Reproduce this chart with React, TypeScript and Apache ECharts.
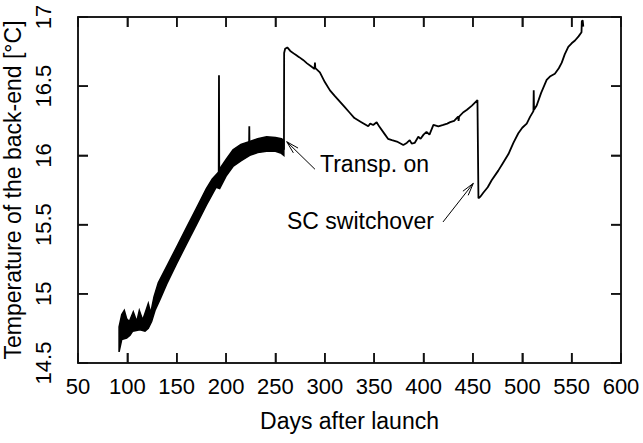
import React, { useEffect, useRef } from "react";
import * as echarts from "echarts";

const FONT = "'Liberation Sans', Arial, Helvetica, sans-serif";

// Tick values
const xTicks = [50, 100, 150, 200, 250, 300, 350, 400, 450, 500, 550, 600];
const yTicks = [14.5, 15, 15.5, 16, 16.5, 17];

// Noisy band (days 92–258): upper and lower envelope
const topDays = [91.6, 94.3, 96.9, 99.3, 102.0, 106.0, 109.5, 112.1, 115.5, 117.9, 121.2, 123.6, 127.0, 131.3, 140, 150, 160, 170, 180, 186, 192.5, 193.2, 200, 207, 215, 224, 232, 241, 250, 256, 258.5];
const topTemps = [14.76, 14.85, 14.88, 14.82, 14.80, 14.87, 14.80, 14.88, 14.81, 14.86, 14.93, 14.86, 14.98, 15.08, 15.20, 15.34, 15.48, 15.62, 15.76, 15.83, 15.88, 15.90, 15.97, 16.04, 16.08, 16.10, 16.12, 16.135, 16.13, 16.12, 16.11];
const bottomDays = [91.6, 94.3, 99.3, 102.7, 105.4, 112.8, 117.9, 121.2, 124.6, 128.0, 133.1, 139.8, 150, 160, 170, 180, 190, 193.5, 200, 207, 215, 224, 232, 241, 250, 256, 258.5];
const bottomTemps = [14.58, 14.67, 14.68, 14.70, 14.73, 14.74, 14.73, 14.75, 14.80, 14.88, 14.96, 15.07, 15.22, 15.36, 15.50, 15.64, 15.77, 15.76, 15.85, 15.92, 15.96, 16.0, 16.02, 16.03, 16.03, 16.015, 16.0];

// Short spikes inside the band
const spike1Days = [192.5, 192.8, 193.1];
const spike1Temps = [15.8, 16.58, 15.8];
const spike2Days = [223.3, 223.5, 223.7];
const spike2Temps = [16.08, 16.21, 16.08];

// Main curve after "Transp. on"
const mainDays = [258.6, 258.8, 259.8, 262, 265, 269.8, 274, 278, 282, 286.7, 289.6, 290, 290.4, 295, 300, 305.2, 310, 315, 320, 325, 330, 337, 344, 346, 349, 352.5, 355, 361, 364, 368, 373, 379.5, 383, 386, 388, 391, 394.7, 397, 400, 403, 406, 410, 415, 420, 424, 427, 431, 435, 435.5, 436, 440, 444, 449, 454.6, 455.6, 457.3, 460.5, 465, 469, 475.7, 480, 486, 491, 496, 500, 504.5, 508, 511.3, 511.6, 511.9, 514.6, 519, 524.7, 528, 533, 537, 540, 543, 546.6, 550, 553.4, 557, 560, 560.3, 561.2, 561.8];
const mainTemps = [16.04, 16.74, 16.77, 16.78, 16.755, 16.73, 16.71, 16.69, 16.665, 16.64, 16.625, 16.67, 16.63, 16.6, 16.53, 16.47, 16.43, 16.39, 16.35, 16.31, 16.27, 16.24, 16.21, 16.23, 16.22, 16.24, 16.21, 16.15, 16.12, 16.11, 16.10, 16.075, 16.09, 16.11, 16.085, 16.09, 16.135, 16.12, 16.15, 16.17, 16.15, 16.22, 16.21, 16.22, 16.23, 16.24, 16.25, 16.28, 16.25, 16.28, 16.31, 16.33, 16.36, 16.40, 15.69, 15.70, 15.73, 15.77, 15.82, 15.89, 15.94, 16.01, 16.09, 16.16, 16.2, 16.23, 16.28, 16.32, 16.47, 16.33, 16.36, 16.45, 16.545, 16.57, 16.59, 16.63, 16.67, 16.73, 16.785, 16.81, 16.83, 16.86, 16.89, 16.97, 16.975, 16.93];

// Annotations
const annotLabels = ["Transp. on", "SC switchover"];
const annotTextDays = [295.1, 261.7];
const annotTextTemps = [15.938, 15.526];
const arrowTailDays = [290.0, 419.7];
const arrowTailTemps = [15.9, 15.519];
const arrowHeadDays = [261.4, 450.4];
const arrowHeadTemps = [16.099, 15.798];

const X_MIN = 50, X_MAX = 600, X_STEP = 50;
const Y_MIN = 14.5, Y_MAX = 17, Y_STEP = 0.5;

const pairs = (xs: number[], ys: number[]) => xs.map((x, i) => [x, ys[i]]);

export default function App() {
  const ref = useRef<HTMLDivElement>(null);
  useEffect(() => {
    if (!ref.current) return;
    const chart = echarts.init(ref.current, undefined, { renderer: "svg" });
    const mkLine = () => ({ show: true, onZero: false, lineStyle: { color: "#111", width: 1.5 } });
    const mkTick = () => ({ show: true, inside: true, length: 10, lineStyle: { color: "#111", width: 1.5 } });
    const lineSeries = (name: string, xs: number[], ys: number[]) => ({
      name,
      type: "line",
      data: pairs(xs, ys),
      symbol: "none",
      silent: true,
      clip: true,
      lineStyle: { color: "#000", width: 1.8 },
    });
    const frameStyle = { stroke: "#111", lineWidth: 1.5, fill: "none" };
    chart.setOption({
      animation: false,
      backgroundColor: "#fff",
      grid: { left: 78, right: 22, top: 17, bottom: 80, containLabel: false, outerBoundsMode: "none", show: false },
      xAxis: [
        {
          type: "value", min: X_MIN, max: X_MAX, interval: X_STEP, position: "bottom",
          axisLine: mkLine(), axisTick: mkTick(), splitLine: { show: false },
          axisLabel: { fontSize: 22, color: "#000", margin: 12, fontFamily: FONT },
          name: "Days after launch", nameLocation: "middle", nameGap: 46,
          nameTextStyle: { fontSize: 23, color: "#000", fontFamily: FONT },
        },
        {
          type: "value", min: X_MIN, max: X_MAX, interval: X_STEP, position: "top",
          axisLine: mkLine(), axisTick: mkTick(), splitLine: { show: false }, axisLabel: { show: false },
        },
      ],
      yAxis: [
        {
          type: "value", min: Y_MIN, max: Y_MAX, interval: Y_STEP, position: "left",
          axisLine: mkLine(), axisTick: mkTick(), splitLine: { show: false },
          axisLabel: { fontSize: 22, color: "#000", margin: 24, rotate: 90, fontFamily: FONT },
          name: "Temperature of the back-end [°C]", nameLocation: "middle", nameGap: 50,
          nameTextStyle: { fontSize: 23, color: "#000", fontFamily: FONT },
        },
        {
          type: "value", min: Y_MIN, max: Y_MAX, interval: Y_STEP, position: "right",
          axisLine: mkLine(), axisTick: mkTick(), splitLine: { show: false }, axisLabel: { show: false },
        },
      ],
      series: [
        {
          name: "frame",
          type: "custom",
          silent: true,
          clip: false,
          z: 5,
          data: [[X_MIN, Y_MIN]],
          renderItem: (params: any, api: any) => {
            const bl = api.coord([X_MIN, Y_MIN]);
            const tr = api.coord([X_MAX, Y_MAX]);
            const children: any[] = [
              { type: "rect", shape: { x: bl[0], y: tr[1], width: tr[0] - bl[0], height: bl[1] - tr[1] }, style: frameStyle },
            ];
            xTicks.forEach((t) => {
              const px = api.coord([t, Y_MIN])[0];
              children.push({ type: "line", shape: { x1: px, y1: bl[1], x2: px, y2: bl[1] - 10 }, style: frameStyle });
              children.push({ type: "line", shape: { x1: px, y1: tr[1], x2: px, y2: tr[1] + 10 }, style: frameStyle });
            });
            yTicks.forEach((t) => {
              const py = api.coord([X_MIN, t])[1];
              children.push({ type: "line", shape: { x1: bl[0], y1: py, x2: bl[0] + 10, y2: py }, style: frameStyle });
              children.push({ type: "line", shape: { x1: tr[0], y1: py, x2: tr[0] - 10, y2: py }, style: frameStyle });
            });
            return { type: "group", children };
          },
        },
        {
          name: "band",
          type: "custom",
          silent: true,
          clip: true,
          data: pairs(topDays, topTemps),
          renderItem: (params: any, api: any) => {
            if (params.dataIndex !== 0) return null;
            const pts: number[][] = [];
            topDays.forEach((d, i) => pts.push(api.coord([d, topTemps[i]])));
            for (let i = bottomDays.length - 1; i >= 0; i--) pts.push(api.coord([bottomDays[i], bottomTemps[i]]));
            return {
              type: "polygon",
              shape: { points: pts },
              style: { fill: "#000", stroke: "#000", lineWidth: 1.5 },
            };
          },
        },
        lineSeries("spike1", spike1Days, spike1Temps),
        lineSeries("spike2", spike2Days, spike2Temps),
        lineSeries("main", mainDays, mainTemps),
        {
          name: "annotations",
          type: "custom",
          silent: true,
          data: pairs(annotTextDays, annotTextTemps),
          renderItem: (params: any, api: any) => {
            const i = params.dataIndex;
            const tail = api.coord([arrowTailDays[i], arrowTailTemps[i]]);
            const head = api.coord([arrowHeadDays[i], arrowHeadTemps[i]]);
            const ang = Math.atan2(head[1] - tail[1], head[0] - tail[0]);
            const L = 13, a = 0.26;
            const p1 = [head[0] - L * Math.cos(ang - a), head[1] - L * Math.sin(ang - a)];
            const p2 = [head[0] - L * Math.cos(ang + a), head[1] - L * Math.sin(ang + a)];
            const tp = api.coord([annotTextDays[i], annotTextTemps[i]]);
            return {
              type: "group",
              children: [
                { type: "line", shape: { x1: tail[0], y1: tail[1], x2: head[0], y2: head[1] }, style: { stroke: "#000", lineWidth: 1 } },
                { type: "polyline", shape: { points: [p1, head, p2] }, style: { stroke: "#000", fill: "none", lineWidth: 1 } },
                {
                  type: "text", x: tp[0], y: tp[1],
                  style: { text: annotLabels[i], fontSize: 23, fill: "#000", fontFamily: FONT, align: "left", verticalAlign: "middle" },
                },
              ],
            };
          },
        },
      ],
    });
    return () => chart.dispose();
  }, []);
  return <div ref={ref} style={{ position: "fixed", left: 0, top: 0, width: 643, height: 443, background: "#fff" }} />;
}
